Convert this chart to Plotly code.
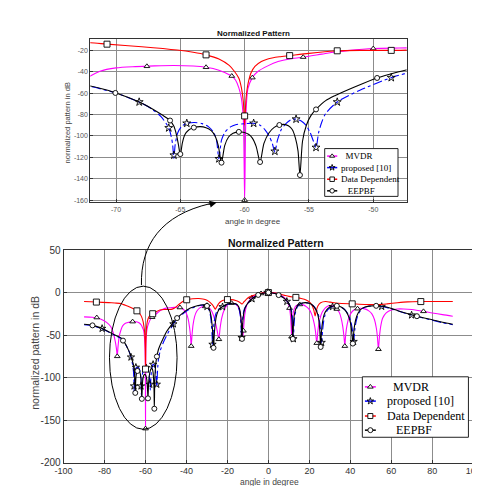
import plotly.graph_objects as go

# ---------------- data : (angle in degree, normalized pattern in dB) ----------------
mvdr = [(-90, -28.6), (-86, -29.0), (-82, -31), (-79, -35), (-77, -40), (-75.8, -47), (-74.8, -57),
        (-74.2, -66), (-73.8, -75), (-73.4, -63), (-72.8, -51), (-72, -44), (-71.25, -39.5), (-70, -36.4),
        (-68.5, -35.2), (-67, -34.5), (-65.5, -34.1), (-64, -34.6), (-63, -35.8), (-62, -38.5), (-61.5, -41),
        (-61, -44), (-60.7, -48), (-60.45, -55), (-60.25, -65), (-60.1, -85), (-60, -160), (-59.9, -80),
        (-59.75, -56), (-59.4, -45.5), (-59, -40), (-58.2, -34.5), (-57.4, -30.5), (-56.5, -28), (-55.5, -26.5),
        (-54, -23.5), (-53, -21.5), (-52, -20.2), (-50, -18.3), (-48, -17.8), (-46, -17.4), (-44, -17.3),
        (-42.5, -18.2), (-41, -21), (-40, -25), (-39.2, -31), (-38.5, -41), (-38, -52), (-37.7, -63),
        (-37.3, -50), (-36.8, -38), (-36, -28), (-35, -22), (-33.5, -18), (-31, -16.2), (-29.5, -17),
        (-28, -20.5), (-26.8, -27), (-25.8, -36), (-25, -45), (-24.2, -55), (-23.6, -42), (-22.8, -30),
        (-21.5, -20), (-20, -14.5), (-18, -12.5), (-16.5, -13), (-15, -16), (-14, -22), (-13.3, -32),
        (-12.8, -42), (-12.4, -51), (-12, -38), (-11.5, -25), (-10.7, -16), (-9.5, -10), (-8, -6), (-6, -3),
        (-4, -1.3), (-2, -0.3), (0, 0), (2, -0.3), (4, -1.3), (6, -3), (8, -6.5), (9.3, -11), (10.3, -18.3),
        (10.8, -28), (11.1, -40), (11.3, -52), (11.6, -35), (12.1, -24), (13, -17), (14.3, -14.3),
        (15.5, -13.8), (17, -14.5), (18.5, -16.5), (20, -20), (21.2, -26), (22.3, -36), (23, -46),
        (23.6, -59.5), (24.2, -44), (25, -32), (26.3, -23), (27.8, -18), (29.5, -15.5), (31, -15.5),
        (32.5, -17), (33.4, -19.4), (34.5, -23), (35.5, -30), (36.3, -40), (36.9, -52), (37.3, -63),
        (37.7, -50), (38.4, -38), (39.5, -28), (41, -22), (43, -19), (45, -18.5), (47, -19.2), (49, -21.5),
        (50.5, -25), (51.8, -32), (52.7, -42), (53.2, -52), (53.7, -66.7), (54.2, -52), (54.8, -40),
        (55.8, -30), (57.5, -24), (60, -20.5), (63, -19.3), (66, -19.3), (70, -20), (75.7, -22.1),
        (80, -24), (85, -26), (90, -27.8)]

proposed = [(-90, -37.8), (-86, -39), (-82, -42), (-78, -46.5), (-75, -50.5), (-72, -53.8), (-70, -60),
            (-68.2, -68.3), (-67.2, -75), (-66.5, -82), (-65.9, -92.5), (-65.7, -101), (-65.6, -108),
            (-65.5, -121), (-65.4, -108), (-65.2, -97), (-64.9, -91), (-64.5, -88.2), (-63.9, -87.5),
            (-63.3, -88.5), (-62.8, -91.5), (-62.45, -96), (-62.2, -103), (-62.0, -121.4), (-61.8, -104),
            (-61.5, -96), (-61.1, -91.5), (-60.7, -89.5), (-60, -88.6), (-59.3, -88.2), (-58.8, -90),
            (-58.4, -94.5), (-58.1, -100), (-57.85, -107), (-57.65, -115), (-57.45, -104), (-57.15, -94),
            (-56.75, -88), (-56.35, -84.6), (-56.0, -84.3), (-55.6, -86), (-55.2, -90.5), (-54.9, -97),
            (-54.65, -105), (-54.45, -111), (-54.25, -97), (-54.0, -87), (-53.7, -79), (-52.8, -68.3),
            (-51, -57), (-48.6, -45.5), (-47.4, -41.2), (-46.4, -37), (-44.5, -31), (-42, -25.5),
            (-39.6, -21), (-36, -17), (-33, -15), (-31, -15), (-29.8, -16.8), (-28.9, -21), (-28.2, -29),
            (-27.8, -39), (-27.5, -50), (-27.3, -61), (-27.0, -48), (-26.5, -35), (-25.8, -26),
            (-24.5, -19.8), (-22.4, -16.8), (-20, -13.8), (-17.6, -12.9), (-16, -13.5), (-15, -15.8),
            (-14.2, -20.5), (-13.7, -28), (-13.4, -38), (-13.1, -53), (-12.8, -38), (-12.4, -27),
            (-11.8, -19.5), (-10.6, -14.6), (-8.5, -8.6), (-6.6, -5), (-4, -1.8), (-2, -0.5), (0, 0),
            (2, -0.5), (4, -1.8), (6.6, -5), (8.5, -8.6), (10, -13), (11, -18.5), (11.6, -27), (11.9, -38),
            (12.2, -54.5), (12.5, -38), (12.9, -27), (13.7, -19), (14.8, -14.5), (16.1, -12.8), (18, -12),
            (20, -12.8), (22, -15.8), (23.3, -19.8), (24.3, -25), (25, -34), (25.5, -45), (26.0, -58.8),
            (26.4, -46), (26.9, -35), (27.7, -26), (29, -20), (30.5, -17.2), (31.8, -16), (33.4, -15.8),
            (35.5, -17.2), (37.5, -20.7), (39, -26), (40.1, -33), (40.9, -42), (41.6, -57.7), (42.2, -43),
            (43, -32), (44.2, -24), (46.2, -18.5), (49, -16.2), (52.6, -15.8), (55.3, -16.4), (61.6, -20.2),
            (66, -23.8), (69.9, -26.5), (72.5, -28.2), (80, -32.5), (85, -35.5), (90, -37.8)]

data_dep = [(-90, -10.5), (-84, -11.2), (-78, -11.9), (-75, -12.3), (-72, -12.8), (-70.7, -14.2),
            (-68, -16.6), (-65.25, -19.7), (-64, -21.8), (-63, -24.2), (-62, -28), (-61.2, -34),
            (-60.8, -39.5), (-60.45, -46), (-60.25, -55), (-60.1, -68), (-60, -90), (-59.9, -66),
            (-59.75, -52), (-59.5, -41), (-59.2, -35), (-58.7, -30.5), (-58.2, -28), (-57.3, -26),
            (-56.5, -24.9), (-55, -22.8), (-53, -20.6), (-51, -20.0), (-49, -20.0), (-47.4, -19.8),
            (-46, -18.5), (-44, -14.5), (-42, -10.8), (-40, -8.5), (-37, -7.3), (-34, -7.0), (-32, -7.5),
            (-30, -9), (-28.5, -11.5), (-27.3, -14.5), (-26.5, -17.5), (-25.9, -19.6), (-25.3, -17),
            (-24.3, -13), (-23, -10.3), (-21.5, -8.8), (-20, -8.3), (-18, -8.3), (-16, -9.3), (-14.5, -10.8),
            (-13.5, -12.5), (-12.8, -13.5), (-12, -11), (-11, -8.5), (-9.8, -5.8), (-8, -3.8), (-6, -2.2),
            (-4, -1), (-2, -0.25), (0, 0), (2, -0.3), (4, -1), (7.5, -3), (10, -4.5), (13.4, -5.7), (16, -7),
            (18.4, -8.7), (20, -11), (21.3, -15), (22.2, -21), (22.8, -27.5), (23.4, -21), (24.2, -15.5),
            (25.5, -12), (27.9, -10.6), (30.2, -11.3), (34, -12.5), (40.9, -13.3), (47, -14), (53.7, -14.2),
            (58, -13.3), (63, -12), (68, -11), (74.4, -10.6), (80, -10.5), (90, -10.5)]

eepbf = [(-90, -37.3), (-86, -38.6), (-82, -41.5), (-78, -46), (-75, -50), (-72, -53.3), (-70, -59.8),
         (-68.2, -68.3), (-67.2, -74.5), (-66.4, -80.5), (-65.8, -85.6), (-65.5, -91), (-65.3, -99),
         (-65.15, -108), (-65.0, -118), (-64.85, -107), (-64.65, -99), (-64.35, -94.5), (-63.95, -92.2),
         (-63.45, -91.3), (-63.0, -92.3), (-62.6, -95), (-62.3, -100), (-62.05, -109), (-61.8, -125),
         (-61.55, -109), (-61.25, -101), (-60.9, -97.5), (-60.45, -96.2), (-60.1, -96.6), (-59.7, -98.5),
         (-59.4, -102), (-59.1, -110), (-58.8, -124.4), (-58.5, -107), (-58.1, -97), (-57.7, -92),
         (-57.3, -89.8), (-56.95, -89.2), (-56.6, -90.5), (-56.3, -94), (-56.05, -102), (-55.85, -114),
         (-55.7, -136.6), (-55.5, -105), (-55.2, -90), (-54.85, -81), (-54.45, -75.2), (-53.7, -67),
         (-52.95, -62.2), (-51.5, -54.5), (-49.7, -45.8), (-48, -40), (-46.5, -35.5), (-44.6, -30),
         (-42, -24.5), (-39.6, -20.1), (-36, -16.5), (-33, -14.6), (-31, -14.5), (-29.8, -16), (-28.8, -20),
         (-28, -28), (-27.5, -38), (-27.1, -50), (-26.8, -65), (-26.4, -48), (-25.9, -35), (-25.2, -26),
         (-24, -19.5), (-22.4, -16.4), (-20, -13.5), (-17.6, -12.6), (-16, -13.2), (-14.8, -15.5),
         (-14, -20), (-13.5, -28), (-13.2, -38), (-12.9, -54.5), (-12.6, -38), (-12.2, -27), (-11.6, -19.5),
         (-10.6, -14.4), (-8.5, -8.5), (-6.6, -5), (-4, -1.8), (-2, -0.5), (0, 0), (2, -0.5), (4, -1.8),
         (6.6, -5), (8.5, -8.5), (10, -13), (10.8, -18), (11.3, -27), (11.6, -38), (11.9, -54.5),
         (12.2, -38), (12.6, -27), (13.4, -19), (14.6, -14.5), (16.1, -12.6), (18, -11.8), (20, -12.6),
         (21.8, -15.5), (23, -19.5), (24, -25), (24.7, -34), (25.1, -45), (25.5, -64), (25.9, -46),
         (26.4, -35), (27.2, -26), (28.5, -20), (30, -17), (31.8, -15.8), (33.4, -15.6), (35.5, -17),
         (37.3, -20.5), (38.8, -26), (39.8, -33), (40.5, -42), (41.2, -60), (41.8, -43), (42.6, -32),
         (43.8, -24), (45.9, -18.3), (49, -16), (52.6, -15.6), (56.5, -16.4), (61.6, -20), (66, -23.5),
         (72.5, -27.8), (80, -32), (85, -35), (90, -37.3)]

# marker positions (zoomed panel / full panel)
mvdr_mk_top = [(-67.6, -34.9), (-63.0, -35.8), (-61.0, -44), (-60.0, -160), (-59.4, -45.5), (-55.45, -26.3), (-50.0, -18.3)]
mvdr_mk_bot = [(-83.8, -29.4), (-73.8, -75), (-66.3, -34.2), (-60, -160), (-56.8, -29), (-43.2, -17.6), (-37.7, -63),
               (-30.8, -16.3), (-24.2, -55), (-18, -12.5), (-12.2, -45), (-3.6, -1.1), (10.3, -18.3), (11.3, -52),
               (15.3, -14), (23.6, -59.5), (33.4, -19.4), (37.3, -63), (43.5, -19), (53.7, -66.7), (75.7, -22.1)]
prop_mk_top = [(-68.2, -68.3), (-65.9, -92.5), (-65.5, -118), (-64.5, -88.2), (-62.0, -121.4), (-59.3, -88.2),
               (-57.65, -114.4), (-56.0, -84.3), (-54.45, -110.8), (-52.8, -68.3), (-48.6, -45.5)]
prop_mk_bot = [(-81.2, -42.3), (-67.1, -76), (-64.7, -88), (-65.6, -110), (-62.2, -110), (-59.7, -88.5),
               (-57.9, -108), (-56.3, -84.6), (-54.5, -108), (-46.4, -37), (-30, -16.5), (-27.3, -61),
               (-22.4, -16.8), (-13.1, -53), (-8, -7.5), (-0.5, 0), (9, -10.5), (12.2, -54.5), (26.0, -58.8),
               (31.3, -16.6), (41.6, -57.7), (55.3, -16.4), (69.9, -26.5)]
dd_mk_top = [(-70.7, -14.2), (-63.0, -24.2), (-60.0, -81.3), (-56.5, -24.9), (-52.8, -20.4), (-48.6, -20.0)]
dd_mk_bot = [(-84, -11.2), (-64.2, -21.5), (-60, -90), (-56.5, -24.9), (-39.9, -8.5), (-20, -8.3), (0, 0),
             (13.4, -5.7), (40.9, -13.3), (74.4, -10.6)]
eep_mk_top = [(-70.05, -59.8), (-65.8, -85.6), (-65.0, -117), (-63.95, -92.2), (-61.8, -125), (-60.45, -96.2),
              (-58.8, -124.4), (-57.3, -89.8), (-55.7, -136.6), (-54.45, -75.2), (-49.7, -45.8)]
eep_mk_bot = [(-85.9, -38.6), (-71, -56.5), (-65.0, -118), (-63.95, -92.2), (-61.8, -125), (-58.8, -124.4),
              (-55.7, -136.6), (-54.45, -75.2), (-44.6, -30), (-30, -15.7), (-26.8, -65), (-12.9, -54.5),
              (-5, -2.8), (0, 0), (5, -3), (11.9, -54.5), (25.5, -64), (33.4, -15.6), (41.2, -60),
              (52.6, -15.6), (72.5, -27.8)]

series_names = ["MVDR", "proposed [10]", "Data Dependent", "EEPBF"]
legend_labels = ["\u00a0\u00a0MVDR", "proposed [10]", "Data Dependent", "\u00a0\u00a0\u00a0EEPBF"]

top_xticks = [-70, -65, -60, -55, -50]
top_yticks = [-160, -140, -120, -100, -80, -60, -40, -20]
bot_xticks = [-100, -80, -60, -40, -20, 0, 20, 40, 60, 80, 100]
bot_yticks = [-200, -150, -100, -50, 0, 50]

# ---------------- styles ----------------
W, H = 480, 486
styles = [
    dict(color="#ff00ff", dash="solid", symbol="triangle-up", ms_top=5, ms_bot=5),
    dict(color="#0000ff", dash="dashdot", symbol="star-open", ms_top=6, ms_bot=5.5),
    dict(color="#ff0000", dash="solid", symbol="square", ms_top=6, ms_bot=6),
    dict(color="#000000", dash="solid", symbol="circle", ms_top=5, ms_bot=5),
]
curves = [mvdr, proposed, data_dep, eepbf]
marks_top = [mvdr_mk_top, prop_mk_top, dd_mk_top, eep_mk_top]
marks_bot = [mvdr_mk_bot, prop_mk_bot, dd_mk_bot, eep_mk_bot]


def split(pairs):
    return [p[0] for p in pairs], [p[1] for p in pairs]


fig = go.Figure()

for name, curve, mt, mb, st in zip(series_names, curves, marks_top, marks_bot, styles):
    cx, cy = split(curve)
    for (xa, ya, mk, ms) in (("x", "y", mt, st["ms_top"]), ("x2", "y2", mb, st["ms_bot"])):
        fig.add_trace(go.Scatter(x=cx, y=cy, mode="lines", xaxis=xa, yaxis=ya, name=name,
                                 line=dict(color=st["color"], width=1.1, dash=st["dash"],
                                           shape="spline", smoothing=0.7),
                                 showlegend=False, hoverinfo="skip"))
        mx, my = split(mk)
        fill = "black" if st["symbol"] == "star-open" else "white"
        fig.add_trace(go.Scatter(x=mx, y=my, mode="markers", xaxis=xa, yaxis=ya, name=name,
                                 marker=dict(symbol=st["symbol"], size=ms, color=fill,
                                             line=dict(color="black", width=0.9)),
                                 showlegend=False, hoverinfo="skip"))

# ---------------- manual legends (pixel overlay axes x3/y3) ----------------
legends = [
    dict(box=(319, 138, 395, 187), rows=[145.7, 157.5, 169.4, 181.3], line=(321.5, 332), mk=326.7,
         tx=[334.2, 334.2, 334.2, 334.2], fs=9, ms=4.5),
    dict(box=(358, 372, 468, 434), rows=[382.3, 396.9, 412.2, 426.7], line=(360.7, 372), mk=366.3,
         tx=[381.7, 381.7, 381.7, 381.7], fs=12, ms=5),
]
shapes = []
annotations = []
for lg in legends:
    x0, y0, x1, y1 = lg["box"]
    shapes.append(dict(type="rect", xref="x3", yref="y3", x0=x0, y0=y0, x1=x1, y1=y1,
                       fillcolor="white", line=dict(color="#222", width=1), layer="between"))
    for i, st in enumerate(styles):
        yc = lg["rows"][i]
        fig.add_trace(go.Scatter(x=[lg["line"][0], lg["line"][1]], y=[yc, yc], mode="lines",
                                 xaxis="x3", yaxis="y3", line=dict(color=st["color"], width=1.5),
                                 showlegend=False, hoverinfo="skip"))
        fill = "black" if st["symbol"] == "star-open" else "white"
        fig.add_trace(go.Scatter(x=[lg["mk"]], y=[yc], mode="markers", xaxis="x3", yaxis="y3",
                                 marker=dict(symbol=st["symbol"], size=lg["ms"], color=fill,
                                             line=dict(color="black", width=0.9)),
                                 showlegend=False, hoverinfo="skip"))
        annotations.append(dict(text=legend_labels[i], x=lg["tx"][i], y=yc, xref="x3", yref="y3",
                                xanchor="left", yanchor="middle", showarrow=False,
                                font=dict(family="Liberation Serif", size=lg["fs"], color="black")))

# ellipse around the null region and the curved arrow towards the zoom
shapes.append(dict(type="circle", xref="x2", yref="y2", x0=-77.6, x1=-44.6, y0=-160.8, y1=7.5,
                   line=dict(color="black", width=1), layer="above"))
shapes.append(dict(type="path", xref="x3", yref="y3", path="M 129 278 C 128 236 150 206 200 194.5",
                   line=dict(color="black", width=1)))
annotations.append(dict(text="", x=207, y=193.3, xref="x3", yref="y3", ax=197, ay=195.6,
                        axref="x3", ayref="y3", showarrow=True, arrowhead=2, arrowsize=1.4,
                        arrowwidth=1, arrowcolor="black", standoff=0))

# titles / axis titles
sans = "Liberation Sans"
annotations += [
    dict(text="<b>Normalized Pattern</b>", x=245.5, y=20, font=dict(size=8, family=sans, color="#111")),
    dict(text="angle in degree", x=245, y=213, font=dict(size=8, family=sans, color="#444")),
    dict(text="normalized pattern in dB", x=52.5, y=111.5, textangle=-90,
         font=dict(size=7.5, family=sans, color="#444")),
    dict(text="<b>Normalized Pattern</b>", x=269, y=234.5, font=dict(size=10.5, family=sans, color="#111")),
    dict(text="angle in degree", x=262, y=480.3, font=dict(size=8.5, family=sans, color="#444")),
    dict(text="normalized pattern in dB", x=18.5, y=347.5, textangle=-90,
         font=dict(size=10.5, family=sans, color="#444")),
]
for a in annotations[-6:]:
    a.update(xref="x3", yref="y3", showarrow=False, xanchor="center", yanchor="middle", borderpad=0)

grid = "#8c8c8c"
axis_common = dict(showgrid=True, gridcolor=grid, gridwidth=1, showline=True, mirror=True,
                   linecolor="#333", linewidth=1, ticks="inside", ticklen=3, tickcolor="#333",
                   zeroline=False, ticklabeloverflow="allow")

fig.update_layout(
    width=W, height=H, margin=dict(l=0, r=0, t=0, b=0),
    paper_bgcolor="white", plot_bgcolor="rgba(0,0,0,0)", showlegend=False,
    xaxis=dict(domain=[76 / W, 404 / W], range=[-72, -47.4], anchor="y",
               tickvals=top_xticks, ticktext=[str(v) for v in top_xticks],
               tickfont=dict(size=7, family=sans, color="#555"), **axis_common),
    yaxis=dict(domain=[1 - 193 / H, 1 - 26 / H], range=[-162, -9.7], anchor="x",
               tickvals=top_yticks, ticktext=[str(v) for v in top_yticks],
               tickfont=dict(size=7, family=sans, color="#555"), **axis_common),
    xaxis2=dict(domain=[48.3 / W, 473 / W], range=[-100, 100], anchor="y2",
                tickvals=bot_xticks, ticktext=[str(v) for v in bot_xticks],
                tickfont=dict(size=9, family=sans, color="#333"), **axis_common),
    yaxis2=dict(domain=[1 - 460 / H, 1 - 242 / H], range=[-200, 50], anchor="x2",
                tickvals=bot_yticks, ticktext=[str(v) for v in bot_yticks],
                tickfont=dict(size=10, family=sans, color="#333"), **axis_common),
    xaxis3=dict(domain=[0, 1], range=[0, W], anchor="y3", visible=False, fixedrange=True),
    yaxis3=dict(domain=[0, 1], range=[H, 0], anchor="x3", visible=False, fixedrange=True),
    shapes=shapes, annotations=annotations,
)

fig.write_html("out.html", config=dict(displayModeBar=False))
